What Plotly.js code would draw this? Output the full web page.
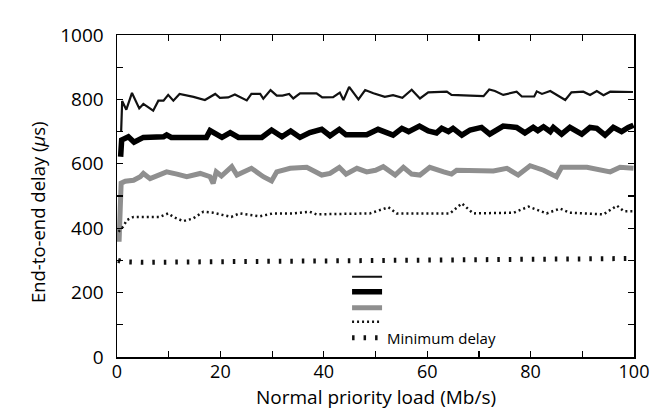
<!DOCTYPE html>
<html>
<head>
<meta charset="utf-8">
<script src="https://cdn.plot.ly/plotly-3.0.1.min.js"></script>
<style>html,body{margin:0;padding:0;background:#fff;}#chart{width:662px;height:412px;}</style>
</head>
<body>
<div id="chart"></div>
<script>
// Series 1: thin solid black (top)
const s1X = [0.8, 1.0, 1.8, 2.9, 4.3, 5.1, 7.0, 8.0, 9.0, 9.9, 10.9, 12.1, 14.8, 17.0, 19.0, 19.9, 21.5, 22.8, 25.1, 26.0, 27.7, 28.3, 29.7, 30.9, 32.0, 33.3, 34.1, 35.4, 36.4, 38.6, 39.7, 41.8, 43.1, 43.8, 44.9, 46.7, 48.0, 49.6, 51.8, 53.4, 55.2, 57.0, 58.6, 60.2, 63.8, 64.7, 68.3, 70.9, 72.0, 73.1, 74.7, 77.3, 78.3, 80.7, 81.2, 82.2, 83.8, 86.7, 87.9, 90.2, 91.5, 92.8, 94.1, 95.4, 99.8];
const s1Y = [700, 795, 768, 820, 772, 786, 765, 796, 796, 814, 796, 817, 808, 798, 817, 805, 806, 815, 797, 817, 817, 802, 829, 812, 812, 817, 803, 819, 819, 819, 806, 807, 821, 798, 839, 800, 829, 819, 808, 813, 805, 830, 803, 822, 824, 814, 812, 810, 831, 826, 814, 824, 809, 809, 825, 817, 826, 798, 822, 824, 814, 826, 813, 824, 823];

// Series 2: thick black
const s2X = [0.7, 0.9, 2.2, 3.3, 5.1, 9.0, 9.6, 10.5, 17.3, 18.0, 20.3, 21.9, 23.5, 28.0, 29.9, 31.9, 33.6, 35.4, 37.3, 39.6, 41.2, 43.0, 44.3, 48.3, 50.5, 53.4, 55.1, 56.4, 58.5, 60.2, 61.8, 62.8, 64.1, 65.0, 66.7, 68.3, 70.5, 72.1, 74.7, 77.3, 78.9, 80.5, 81.4, 82.5, 83.8, 84.4, 86.0, 87.6, 89.9, 91.5, 92.8, 94.4, 96.0, 97.6, 98.9, 99.9];
const s2Y = [622, 674, 684, 667, 682, 684, 690, 682, 682, 703, 682, 697, 682, 682, 705, 684, 702, 682, 697, 707, 687, 707, 690, 690, 707, 689, 710, 700, 717, 702, 696, 710, 700, 710, 689, 705, 713, 692, 717, 713, 696, 713, 703, 715, 700, 713, 692, 713, 692, 713, 710, 689, 713, 700, 713, 720];

// Series 3: grey
const s3X = [0.4, 0.8, 1.6, 3.2, 4.5, 5.1, 6.4, 9.6, 11.6, 13.5, 16.1, 18.0, 18.6, 19.2, 20.2, 22.2, 23.2, 26.0, 28.3, 29.9, 30.9, 33.5, 36.7, 39.6, 41.2, 43.0, 44.3, 46.4, 48.3, 50.0, 51.5, 53.8, 55.4, 57.0, 58.6, 60.5, 63.2, 64.7, 65.7, 72.8, 75.4, 77.6, 79.9, 82.5, 85.0, 86.0, 90.9, 95.4, 97.3, 99.9];
const s3Y = [358, 540, 546, 549, 560, 570, 554, 575, 568, 560, 570, 560, 539, 575, 562, 591, 565, 586, 560, 547, 575, 586, 589, 565, 570, 589, 568, 586, 575, 580, 591, 565, 589, 568, 565, 589, 575, 568, 580, 578, 586, 565, 594, 580, 560, 589, 589, 575, 589, 586];

// Series 4: dotted
const s4X = [0.3, 1.2, 1.9, 3.2, 8.3, 9.9, 10.9, 12.8, 14.7, 16.7, 18.6, 20.5, 22.1, 23.7, 27.6, 30.2, 34.0, 37.3, 38.6, 48.9, 52.5, 54.1, 64.4, 66.7, 68.9, 76.7, 79.6, 83.1, 85.7, 87.6, 94.1, 96.7, 98.0, 99.9];
const s4Y = [389, 405, 425, 435, 435, 446, 435, 422, 430, 451, 448, 440, 435, 446, 437, 446, 446, 451, 443, 446, 465, 446, 446, 477, 446, 448, 467, 446, 461, 448, 443, 470, 453, 453];

// Series 5: minimum delay
const s5X = [0.2, 1, 5, 20, 40, 60, 80, 100];
const s5Y = [300, 296, 294, 296, 300, 304, 306, 306];

const names = ["", "", "", "", "Minimum delay"];
const yTitle = "End-to-end delay (<i>µ</i>s)";
const xTitle = "Normal priority load (Mb/s)";

const traces = [
  {x: s1X, y: s1Y, name: names[0], legend: "legend", mode: "lines", line: {color: "#111", width: 2.2}},
  {x: s2X, y: s2Y, name: names[1], legend: "legend2", mode: "lines", line: {color: "#000", width: 5.5}},
  {x: s3X, y: s3Y, name: names[2], legend: "legend3", mode: "lines", line: {color: "#8f8f8f", width: 5}},
  {x: s4X, y: s4Y, name: names[3], legend: "legend4", mode: "lines", line: {color: "#111", width: 2.5, dash: "2px,3px"}},
  {x: s5X, y: s5Y, name: names[4], legend: "legend5", mode: "lines", line: {color: "#111", width: 5, dash: "2.5px,9px"}}
];

function leg(y) {
  return {x: 0.445, y: y, xanchor: "left", yanchor: "middle", bgcolor: "rgba(0,0,0,0)",
          font: {size: 15, color: "#000"}, borderwidth: 0};
}

const layout = {
  width: 662, height: 412,
  margin: {l: 117, r: 28, t: 35, b: 55},
  paper_bgcolor: "#fff", plot_bgcolor: "#fff",
  font: {family: "Open Sans, sans-serif", color: "#000"},
  showlegend: true,
  legend: leg(0.2484),
  legend2: leg(0.2019),
  legend3: leg(0.1522),
  legend4: leg(0.1087),
  legend5: leg(0.0590),
  xaxis: {
    range: [0, 100], dtick: 20, tick0: 0, ticks: "inside", ticklen: 6, tickwidth: 1.2, tickcolor: "#000",
    minor: {dtick: 10, ticks: "inside", ticklen: 6, tickwidth: 1.2, tickcolor: "#000"},
    showline: true, linecolor: "#000", linewidth: 1.5, mirror: "allticks", showgrid: false, zeroline: false,
    tickfont: {size: 18, color: "#000"}, ticklabelstandoff: -2
  },
  yaxis: {
    range: [0, 1000], dtick: 200, tick0: 0, ticks: "inside", ticklen: 6, tickwidth: 1.2, tickcolor: "#000",
    minor: {dtick: 100, ticks: "inside", ticklen: 6, tickwidth: 1.2, tickcolor: "#000"},
    showline: true, linecolor: "#000", linewidth: 1.5, mirror: "allticks", showgrid: false, zeroline: false,
    tickfont: {size: 19, color: "#000"}, ticklabelstandoff: 8
  },
  annotations: [
    {text: yTitle, xref: "paper", yref: "paper", x: 0, y: 0.45, xanchor: "center", yanchor: "middle",
     xshift: -80, textangle: -90, showarrow: false, font: {size: 18.5, color: "#000"}},
    {text: xTitle, xref: "paper", yref: "paper", x: 0.5, y: 0, xanchor: "center", yanchor: "middle",
     yshift: -40, showarrow: false, font: {size: 19, color: "#000"}}
  ]
};

Plotly.newPlot("chart", traces, layout, {displayModeBar: false, staticPlot: true});
</script>
</body>
</html>
